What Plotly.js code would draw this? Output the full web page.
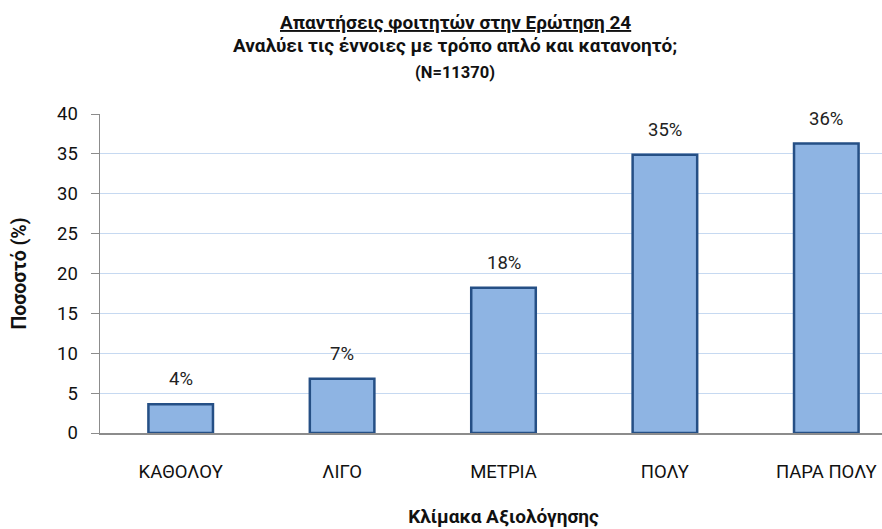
<!DOCTYPE html>
<html>
<head>
<meta charset="utf-8">
<script src="https://cdn.plot.ly/plotly-3.0.1.min.js"></script>
<style>
html,body{margin:0;padding:0;overflow:hidden;background:#fff;}
#chart{width:910px;height:529px;}
</style>
</head>
<body>
<div id="chart"></div>
<script>
var categories = ["ΚΑΘΟΛΟΥ", "ΛΙΓΟ", "ΜΕΤΡΙΑ", "ΠΟΛΥ", "ΠΑΡΑ ΠΟΛΥ"];
var values = [3.6, 6.8, 18.2, 34.9, 36.3];
var labels = ["4%", "7%", "18%", "35%", "36%"];
var titleLines = ["<u>Απαντήσεις φοιτητών στην Ερώτηση 24</u>", "Αναλύει τις έννοιες με τρόπο απλό και κατανοητό;", "(N=11370)"];
var yTicks = [0, 5, 10, 15, 20, 25, 30, 35, 40];

var FONT = "Roboto, 'Noto Sans', 'DejaVu Sans', sans-serif";

var trace = {
  type: "bar",
  x: categories,
  y: values,
  marker: {color: "#8eb4e3", line: {color: "#254f85", width: 2.5}},
  hoverinfo: "none"
};

var annotations = categories.map(function (c, i) {
  return {
    x: c, y: values[i], xref: "x", yref: "y",
    text: labels[i], showarrow: false, yanchor: "bottom", yshift: 12,
    font: {family: FONT, size: 18.5, color: "#222"}
  };
});

var titleX = (455 - 100) / 807;
var titleY = [23, 45, 73];
var titleSizes = [19, 19, 16.5];
titleLines.forEach(function (t, i) {
  annotations.push({
    x: titleX, y: 1 + (114 - titleY[i]) / 319, xref: "paper", yref: "paper",
    text: "<b>" + t + "</b>", showarrow: false, xanchor: "center", yanchor: "middle",
    font: {family: FONT, size: titleSizes[i], color: "#111"}
  });
});

var layout = {
  width: 910, height: 529,
  margin: {l: 100, r: 3, t: 114, b: 96},
  paper_bgcolor: "#fff", plot_bgcolor: "#fff",
  showlegend: false,
  bargap: 0.6,
  font: {family: FONT, color: "#111"},
  xaxis: {
    type: "category",
    showgrid: false,
    showline: true, linecolor: "#8c8c8c", linewidth: 1.5,
    ticks: "", tickfont: {family: FONT, size: 18.5, color: "#111"},
    ticklabelstandoff: 21,
    title: {text: "<b>Κλίμακα Αξιολόγησης</b>", font: {family: FONT, size: 19, color: "#111"}, standoff: 28},
    fixedrange: true
  },
  yaxis: {
    range: [0, 40], tickvals: yTicks,
    showgrid: true, gridcolor: "#c6d9f1", gridwidth: 1,
    showline: true, linecolor: "#8c8c8c", linewidth: 1.5,
    ticks: "outside", ticklen: 8, tickcolor: "#8c8c8c",
    tickfont: {family: FONT, size: 18.5, color: "#111"},
    ticklabelstandoff: 9,
    zeroline: false,
    title: {text: "<b>Ποσοστό (%)</b>", font: {family: FONT, size: 19.5, color: "#111"}, standoff: 25},
    fixedrange: true
  },
  annotations: annotations
};

Plotly.newPlot("chart", [trace], layout, {staticPlot: true, displayModeBar: false});
</script>
</body>
</html>
